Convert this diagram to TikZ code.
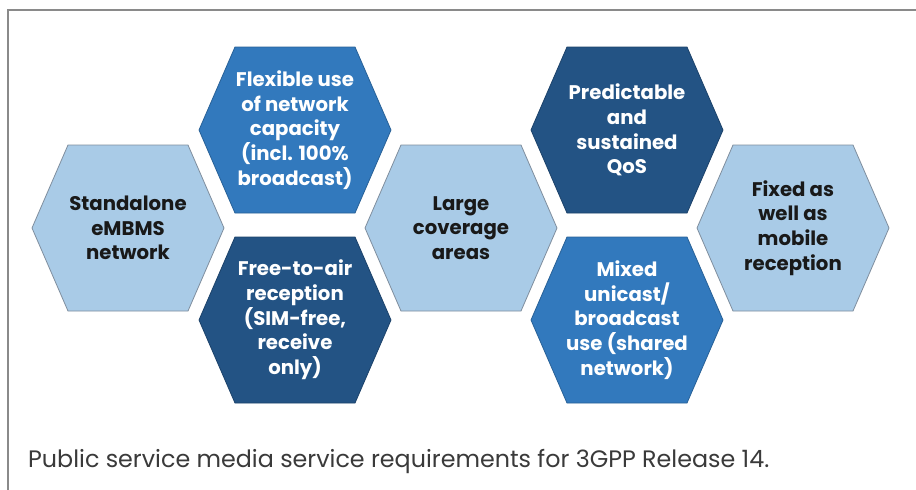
\documentclass[tikz,border=0pt]{standalone}
\usepackage{fontspec}
\setmainfont{Poppins}
\definecolor{hlight}{HTML}{A9CBE7}
\definecolor{hmid}{HTML}{3279BD}
\definecolor{hdark}{HTML}{235384}
\definecolor{framegray}{HTML}{8A8A8A}
\definecolor{captxt}{HTML}{3A3A3A}
\definecolor{lightedge}{HTML}{7F8E9E}
\tikzset{
  hex/.pic={\path[pic actions] (-96,0) -- (-60,-83) -- (60,-83) -- (96,0) -- (60,83) -- (-60,83) -- cycle;},
  hexlight/.style={fill=hlight, draw=lightedge, line width=0.8pt},
  hexmid/.style={fill=hmid, draw=hmid!80!black, line width=0.8pt},
  hexdark/.style={fill=hdark, draw=hdark!80!black, line width=0.8pt},
  hextext/.style={align=center, inner sep=0pt, font=\fontsize{19.7}{24.7}\selectfont\bfseries},
  ontlight/.style={hextext, text=black!90},
  ontblue/.style={hextext, text=white},
  framestyle/.style={draw=framegray, line width=2pt},
  caption/.style={anchor=base west, inner sep=0pt, text=captxt, font=\fontsize{23.8}{28}\selectfont}
}
\begin{document}
\begin{tikzpicture}[x=1pt,y=-1pt]
\useasboundingbox (0,0) rectangle (916,490);
\fill[white] (0,0) rectangle (916,490);
\draw[framestyle] (8,490) -- (8,10) -- (916,10);

\pic[hexlight] at (128,228) {hex};
\pic[hexmid]   at (295,130) {hex};
\pic[hexdark]  at (295,320) {hex};
\pic[hexlight] at (461,228) {hex};
\pic[hexdark]  at (627,130) {hex};
\pic[hexmid]   at (627,320) {hex};
\pic[hexlight] at (793,228) {hex};

\node[ontlight] (stand) at (128,228) {Standalone\\eMBMS\\network};
\node[ontblue]  (flex)  at (295,130) {Flexible use\\of network\\capacity\\(incl. 100\%\\broadcast)};
\node[ontblue]  (free)  at (295,320) {Free-to-air\\reception\\(SIM-free,\\receive\\only)};
\node[ontlight] (large) at (461,228) {Large\\coverage\\areas};
\node[ontblue]  (pred)  at (627,130) {Predictable\\and\\sustained\\QoS};
\node[ontblue]  (mixed) at (627,320) {Mixed\\unicast/\\broadcast\\use (shared\\network)};
\node[ontlight] (fixed) at (793,228) {Fixed as\\well as\\mobile\\reception};

\node[caption] (cap) at (28,467) {Public service media service requirements for 3GPP Release 14.};
\end{tikzpicture}
\end{document}
